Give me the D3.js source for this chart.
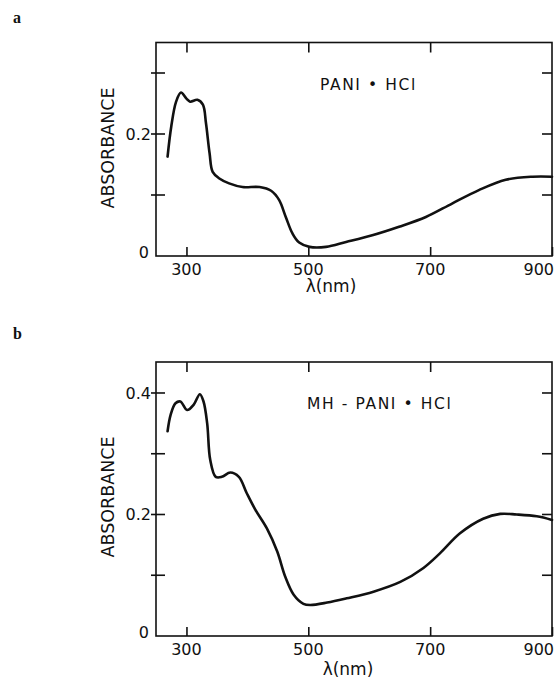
<!DOCTYPE html>
<html>
<head>
<meta charset="utf-8">
<script src="https://cdn.jsdelivr.net/npm/d3@7"></script>
<style>
	body{margin:0;background:#fff}
	text{font-family:'DejaVu Sans',sans-serif;fill:#111}
</style>
</head>
<body>
<script>
// spectrum a: PANI.HCl  (wavelength nm, absorbance)
const waveA=[269,275,283,291,300,306,318,327,332,338,343,354,370,392,420,439,452,463,474,485,502,529,562,605,649,693,736,780,824,868,900]
const absA=[0.163,0.212,0.253,0.268,0.258,0.253,0.256,0.248,0.218,0.168,0.138,0.127,0.119,0.113,0.113,0.107,0.092,0.064,0.037,0.022,0.015,0.015,0.023,0.034,0.048,0.064,0.086,0.108,0.125,0.130,0.130]

// spectrum b: MH-PANI.HCl
const waveB=[269,274,282,290,301,312,322,328,334,339,348,358,372,386,399,413,432,449,462,476,492,503,531,563,607,651,689,716,749,787,815,842,875,900]
const absB=[0.337,0.364,0.383,0.386,0.372,0.381,0.398,0.386,0.350,0.290,0.262,0.262,0.269,0.262,0.235,0.208,0.177,0.139,0.098,0.068,0.053,0.051,0.055,0.062,0.073,0.089,0.112,0.136,0.169,0.193,0.201,0.200,0.197,0.191]

const xTicks=[300,500,700,900]
const yTicksA=[0,0.1,0.2,0.3]
const yLabelsA=[0,0.2]
const yTicksB=[0,0.1,0.2,0.3,0.4]
const yLabelsB=[0,0.2,0.4]

const width=555,height=681

let svg=d3.select('body').append('svg')
	.attr('width',width)
	.attr('height',height)

function panel(opt){
	let xScale=d3.scaleLinear()
		.domain([250,900])
		.range([156,552])
	let yScale=d3.scaleLinear()
		.domain([0,opt.ymax])
		.range([opt.bottom,opt.top])

	let g=svg.append('g')

	// frame
	g.append('rect')
		.attr('x',xScale.range()[0])
		.attr('y',opt.top)
		.attr('width',xScale.range()[1]-xScale.range()[0])
		.attr('height',opt.bottom-opt.top)
		.attr('fill','none')
		.attr('stroke','#111')
		.attr('stroke-width',1.6)

	// bottom / top ticks pointing inward
	g.append('g')
		.attr('transform',`translate(0,${opt.bottom})`)
		.call(d3.axisTop(xScale).tickValues(xTicks).tickSize(9).tickFormat(''))
		.call(a=>a.select('.domain').remove())
		.selectAll('line').attr('stroke','#111').attr('stroke-width',1.6)
	g.append('g')
		.attr('transform',`translate(0,${opt.top})`)
		.call(d3.axisBottom(xScale).tickValues(xTicks.filter(d=>d<900)).tickSize(10).tickFormat(''))
		.call(a=>a.select('.domain').remove())
		.selectAll('line').attr('stroke','#111').attr('stroke-width',1.6)

	g.selectAll('.xlab')
		.data(xTicks)
		.join('text')
		.attr('class','xlab')
		.attr('x',d=>d==900?554:xScale(d))
		.attr('y',opt.bottom+19)
		.attr('text-anchor',d=>d==900?'end':'middle')
		.attr('font-size',16)
		.text(d=>d)

	// left ticks cross the axis, right ticks inward
	g.selectAll('.lt')
		.data(opt.yTicks.filter(d=>d>0))
		.join('line')
		.attr('class','lt')
		.attr('x1',xScale.range()[0]-5)
		.attr('x2',xScale.range()[0]+9)
		.attr('y1',d=>yScale(d))
		.attr('y2',d=>yScale(d))
		.attr('stroke','#111')
		.attr('stroke-width',1.6)
	g.selectAll('.rt')
		.data(opt.yTicks.filter(d=>d>0))
		.join('line')
		.attr('class','rt')
		.attr('x1',xScale.range()[1]-10)
		.attr('x2',xScale.range()[1])
		.attr('y1',d=>yScale(d))
		.attr('y2',d=>yScale(d))
		.attr('stroke','#111')
		.attr('stroke-width',1.6)

	g.selectAll('.ylab')
		.data(opt.yLabels)
		.join('text')
		.attr('class','ylab')
		.attr('x',d=>d==0?149:151)
		.attr('y',d=>yScale(d)-(d==0?4:0))
		.attr('dy','0.36em')
		.attr('text-anchor','end')
		.attr('font-size',16)
		.text(d=>d==0?'0':d3.format('.1f')(d))

	g.append('text')
		.attr('transform',`translate(114,${opt.labelY}) rotate(-90)`)
		.attr('text-anchor','middle')
		.attr('font-size',17.5)
		.text('ABSORBANCE')

	g.append('text')
		.attr('x',opt.lambdaX)
		.attr('y',opt.lambdaY)
		.attr('text-anchor','middle')
		.attr('font-size',17)
		.text('λ(nm)')

	g.append('text')
		.attr('x',opt.nameX)
		.attr('y',opt.nameY)
		.attr('font-size',15.5)
		.attr('letter-spacing',1.6)
		.text(opt.name)

	g.append('text')
		.attr('x',13)
		.attr('y',opt.letterY)
		.style('font-family','"Liberation Serif",serif')
		.attr('font-weight','bold')
		.attr('font-size',16)
		.text(opt.letter)

	const line=d3.line()
		.x((d,i)=>xScale(opt.wave[i]))
		.y(d=>yScale(d))
		.curve(d3.curveCatmullRom)

	g.append('path')
		.datum(opt.abs)
		.attr('fill','none')
		.attr('stroke','#111')
		.attr('stroke-width',2.6)
		.attr('stroke-linejoin','round')
		.attr('stroke-linecap','round')
		.attr('d',line)
}

panel({top:42.5,bottom:256,ymax:0.35,wave:waveA,abs:absA,yTicks:yTicksA,yLabels:yLabelsA,
	labelY:148,lambdaX:331,lambdaY:292,name:'PANI • HCl',nameX:320,nameY:90,letter:'a',letterY:23})
panel({top:362,bottom:636,ymax:0.451,wave:waveB,abs:absB,yTicks:yTicksB,yLabels:yLabelsB,
	labelY:497,lambdaX:348,lambdaY:675,name:'MH - PANI • HCl',nameX:307,nameY:409,letter:'b',letterY:339})
</script>
</body>
</html>
